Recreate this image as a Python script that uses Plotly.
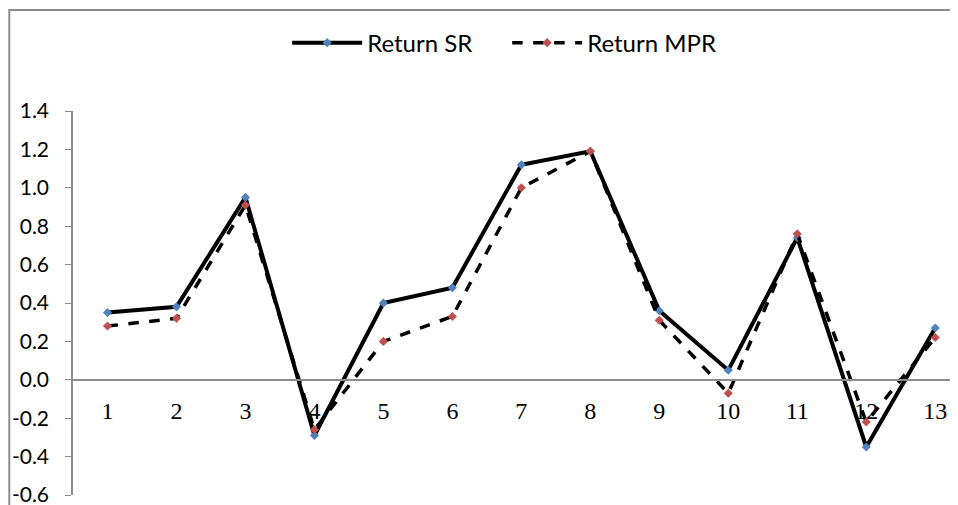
import plotly.graph_objects as go

periods = list(range(1, 14))
return_sr = [0.35, 0.38, 0.95, -0.29, 0.40, 0.48, 1.12, 1.19, 0.36, 0.05, 0.74, -0.35, 0.27]
return_mpr = [0.28, 0.32, 0.91, -0.26, 0.20, 0.33, 1.00, 1.19, 0.31, -0.07, 0.76, -0.22, 0.22]
y_ticks = [-0.6, -0.4, -0.2, 0.0, 0.2, 0.4, 0.6, 0.8, 1.0, 1.2, 1.4]

fig = go.Figure()

fig.add_trace(
    go.Scatter(
        x=periods,
        y=return_sr,
        name="Return SR",
        mode="lines+markers",
        line=dict(color="black", width=4),
        marker=dict(symbol="diamond", size=7, color="#4F81BD"),
    )
)

fig.add_trace(
    go.Scatter(
        x=periods,
        y=return_mpr,
        name="Return MPR",
        mode="lines+markers",
        line=dict(color="black", width=3.5, dash="dash"),
        marker=dict(symbol="diamond", size=7, color="#C0504D"),
    )
)

# x axis sits on the zero line, labels hang below it (Excel style)
fig.update_xaxes(
    range=[0.5, 13.33],
    tickvals=periods,
    ticktext=[str(p) for p in periods],
    anchor="free",
    position=0.3,
    showline=True,
    linecolor="#8c8c8c",
    linewidth=1.5,
    showgrid=False,
    zeroline=False,
    ticks="",
    ticklabelstandoff=10,
    tickfont=dict(family="Liberation Serif", size=24, color="black"),
)

# plain hyphen for negatives, like the original
fig.update_yaxes(
    range=[-0.6, 1.4],
    tickvals=y_ticks,
    ticktext=[f"{v:.1f}" for v in y_ticks],
    showline=True,
    linecolor="#8c8c8c",
    linewidth=1.5,
    ticks="outside",
    ticklen=6,
    tickcolor="#8c8c8c",
    showgrid=False,
    zeroline=False,
    ticklabelstandoff=12,
    tickfont=dict(family="Lato", size=21, color="black"),
)

# outer chart frame (cropped on the right in the original)
fig.add_shape(
    type="rect",
    xref="paper",
    yref="paper",
    x0=-0.072,
    x1=1.2,
    y0=-0.2,
    y1=1.263,
    line=dict(color="#8c8c8c", width=2),
    fillcolor="rgba(0,0,0,0)",
    layer="below",
)

# page body adds an 8px offset, margins compensate for it
fig.update_layout(
    width=958,
    height=505,
    margin=dict(l=65, r=8, t=103, b=18, autoexpand=False),
    plot_bgcolor="white",
    paper_bgcolor="white",
    showlegend=True,
    legend=dict(
        orientation="h",
        x=0.242,
        xanchor="left",
        y=1.177,
        yanchor="middle",
        font=dict(family="Lato", size=24, color="black"),
        itemwidth=70,
        entrywidth=135,
        entrywidthmode="pixels",
        bgcolor="rgba(0,0,0,0)",
    ),
)

fig.write_html("out.html")
